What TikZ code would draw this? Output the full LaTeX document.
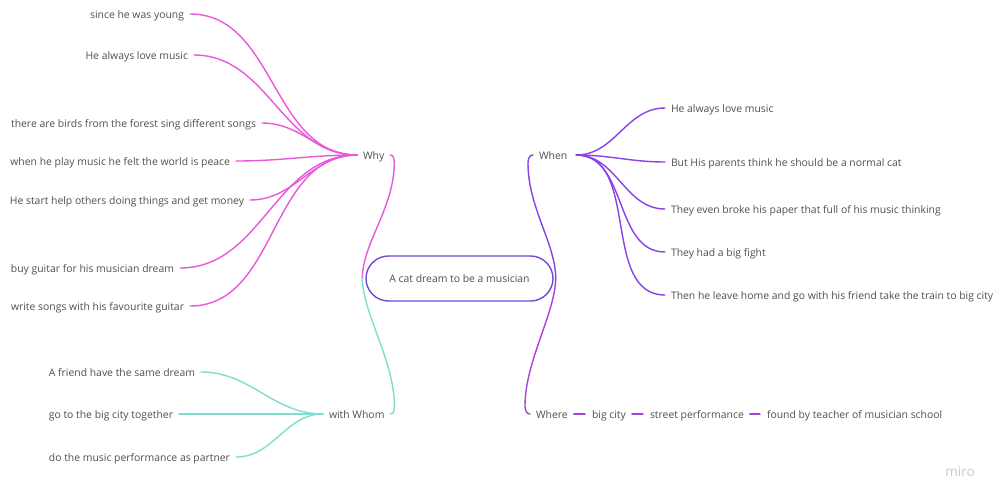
\documentclass[tikz,border=0pt]{standalone}
\usepackage{fontspec}
\setmainfont{Open Sans}
\usetikzlibrary{calc}
\definecolor{whyc}{RGB}{234,88,218}
\definecolor{whenc}{RGB}{137,66,232}
\definecolor{wherec}{RGB}{168,66,220}
\definecolor{whomc}{RGB}{126,222,208}
\definecolor{rootc}{RGB}{114,72,214}
\definecolor{txt}{RGB}{80,80,80}
\definecolor{logo}{RGB}{200,200,206}
\begin{document}
\begin{tikzpicture}[x=1pt,y=-1pt,
  lbl/.style={inner sep=0pt,outer xsep=6pt,outer ysep=0pt,text height=8.2pt,text depth=0pt,
    font=\fontsize{10.4pt}{12pt}\selectfont,text=txt},
  conn/.style={line width=1.4pt,line cap=round},
  rootbox/.style={draw=rootc,line width=1.4pt,rounded corners=22.5pt,minimum width=187pt,
    minimum height=45pt,inner sep=0pt,font=\fontsize{10.4pt}{12pt}\selectfont,text=txt}]
\fill[white] (0,0) rectangle (999,501);
\useasboundingbox (0,0) rectangle (999,501);

% root
\node[rootbox] (root) at (459.5,278.5) {A cat dream to be a musician};

% hubs
\node[lbl,anchor=west] (why) at (357,155) {Why};
\node[lbl,anchor=west] (when) at (533,155) {When};
\node[lbl,anchor=west] (whom) at (323,414) {with Whom};
\node[lbl,anchor=west] (where) at (530,414) {Where};

% why children
\node[lbl,anchor=east] (y1) at (190,14) {since he was young};
\node[lbl,anchor=east] (y2) at (194,55) {He always love music};
\node[lbl,anchor=east] (y3) at (262,123) {there are birds from the forest sing different songs};
\node[lbl,anchor=east] (y4) at (236,161) {when he play music he felt the world is peace};
\node[lbl,anchor=east] (y5) at (250,200) {He start help others doing things and get money};
\node[lbl,anchor=east] (y6) at (180,268) {buy guitar for his musician dream};
\node[lbl,anchor=east] (y7) at (190,306) {write songs with his favourite guitar};

% when children
\node[lbl,anchor=west] (n1) at (665,108) {He always love music};
\node[lbl,anchor=west] (n2) at (665,162) {But His parents think he should be a normal cat};
\node[lbl,anchor=west] (n3) at (665,209) {They even broke his paper that full of his music thinking};
\node[lbl,anchor=west] (n4) at (665,252) {They had a big fight};
\node[lbl,anchor=west] (n5) at (665,295) {Then he leave home and go with his friend take the train to big city};

% whom children
\node[lbl,anchor=east] (w1) at (201,372) {A friend have the same dream};
\node[lbl,anchor=east] (w2) at (179,414) {go to the big city together};
\node[lbl,anchor=east] (w3) at (236,457) {do the music performance as partner};

% where chain
\node[lbl,anchor=west] (r1) at (586,414) {big city};
\node[lbl,anchor=west] (r2) at (644,414) {street performance};
\node[lbl,anchor=west] (r3) at (761,414) {found by teacher of musician school};

% logo
\node[inner sep=0pt,text=logo,font=\fontsize{13.5pt}{14pt}\selectfont] (logo) at (960,472) {miro};

% connectors why
\foreach \c in {y1,y2,y3,y4,y5,y6,y7}
  \draw[conn,whyc] (\c.east) to[out=0,in=180] (why.west);
% connectors when
\foreach \c in {n1,n2,n3,n4,n5}
  \draw[conn,whenc] ([xshift=3pt]when.east) to[out=0,in=180] (\c.west);
% connectors whom
\foreach \c in {w1,w2,w3}
  \draw[conn,whomc] (\c.east) to[out=0,in=180] (whom.west);
% where chain
\draw[conn,wherec] (where.east) -- ([xshift=-1pt]r1.west);
\draw[conn,wherec] (r1.east) -- ([xshift=-1pt]r2.west);
\draw[conn,wherec] (r2.east) -- ([xshift=-1pt]r3.west);

% root links
\draw[conn,whyc] ([xshift=-3pt]root.west) .. controls +(0,-35) and +(0,45) .. ($(why.east)+(4,8)$)
  to[out=90,in=0] (why.east);
\draw[conn,whomc] ([xshift=-3pt,yshift=1pt]root.west) .. controls +(0,35) and +(0,-45) .. ($(whom.east)+(4,-8)$)
  to[out=-90,in=0] (whom.east);
\draw[conn,whenc] ([xshift=2pt]root.east) .. controls +(0,-35) and +(0,45) .. ($(when.west)+(-5,8)$)
  to[out=90,in=180] (when.west);
\draw[conn,wherec] ([xshift=2pt,yshift=1pt]root.east) .. controls +(0,35) and +(0,-45) .. ($(where.west)+(-5,-8)$)
  to[out=-90,in=180] (where.west);
\end{tikzpicture}
\end{document}
